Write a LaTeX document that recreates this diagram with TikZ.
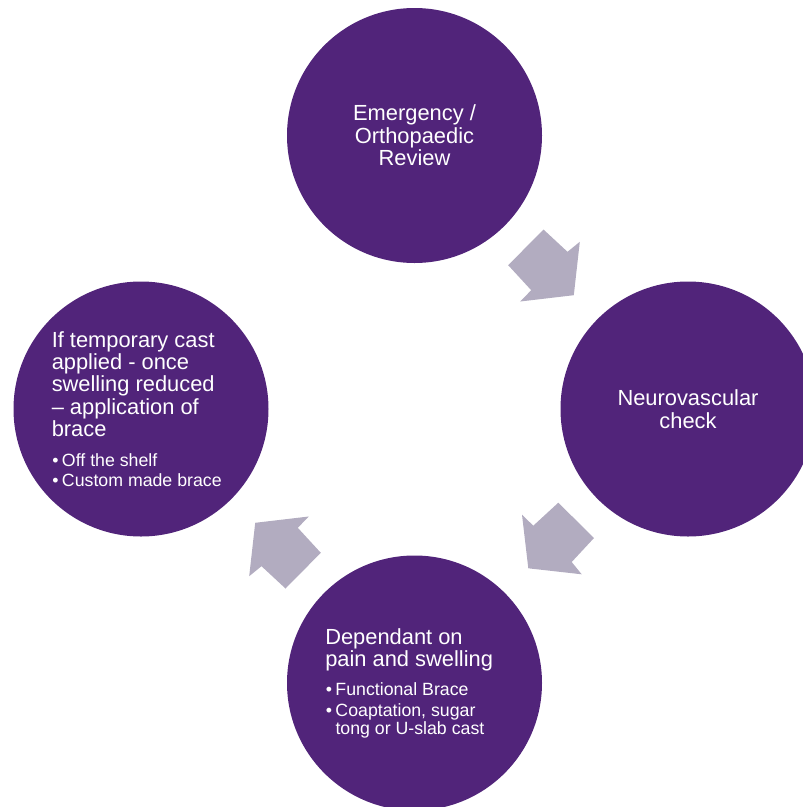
\documentclass[tikz,border=0pt]{standalone}
\usepackage{fontspec}
\setmainfont{Liberation Sans}
\definecolor{stagepurple}{HTML}{51247A}
\definecolor{turngray}{HTML}{B2ACC0}
\newcommand\leadfont{\fontsize{16.4pt}{16.8pt}\selectfont}
\newcommand\itemfont{\fontsize{13.3pt}{13.1pt}\selectfont}
\newcommand\itembullet{\makebox[7.3pt][l]{•}}
\begin{document}
\begin{tikzpicture}[x=0.75pt,y=-0.75pt,
  stage/.style={circle, fill=stagepurple, minimum size=191.25pt, inner sep=0pt,
                text=white, align=center, font=\leadfont},
  leadtext/.style={text=white, align=left, inner sep=0pt, font=\leadfont, anchor=base west},
  itemtext/.style={text=white, align=left, inner sep=0pt, font=\itemfont, anchor=base west},
  turnarrow/.style={fill=turngray}
]
\useasboundingbox (0,0) rectangle (803,807);
\clip (0,0) rectangle (803,807);

% the four stages of the cycle
\node[stage] (review) at (414.5,135.5) {Emergency /\\Orthopaedic\\Review};
\node[stage] (check)  at (688,409)     {Neurovascular\\check};
\node[stage] (splint) at (414.5,683)   {};
\node[stage] (brace)  at (141,409)     {};

% left-aligned texts with bullet lists (placed by the baseline of their last line)
\node[leadtext] (bracelead) at (51.5,436.7)
  {If temporary cast\\applied - once\\swelling reduced\\– application of\\brace};
\node[itemtext] (braceitems) at (52,486.7)
  {\itembullet Off the shelf\\[2.4pt]\itembullet Custom made brace};

\node[leadtext] (splintlead) at (325,666.7) {Dependant on\\pain and swelling};
\node[itemtext] (splintitems) at (325.5,734)
  {\itembullet Functional Brace\\[2.4pt]\itembullet Coaptation, sugar\\\hspace*{7.3pt}tong or U-slab cast};

% block arrows turning clockwise around the hub
\coordinate (hub) at (414.5,409);
\foreach \ang in {0,-90,-180}
  \fill[turnarrow, shift={(hub)}, rotate=\ang]
    (159.3,-113.8) -- (165.3,-167.2) -- (153,-157.2) -- (129,-179.5)
    -- (93.7,-143.8) -- (116.7,-118.8) -- (105.7,-107.5) -- cycle;
\end{tikzpicture}
\end{document}
